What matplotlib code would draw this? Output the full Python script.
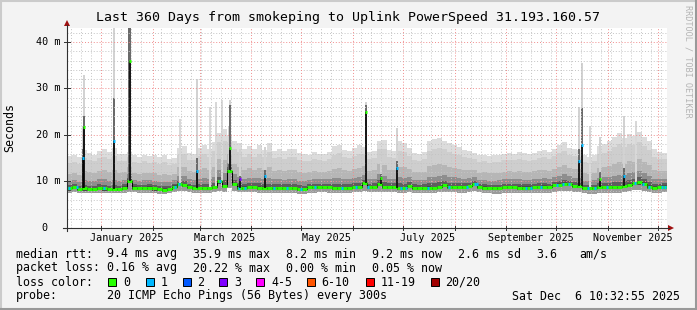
import datetime as dt
import numpy as np
import matplotlib
matplotlib.use("Agg")
import matplotlib.pyplot as plt
from matplotlib.patches import Rectangle, Polygon
from matplotlib.lines import Line2D

plt.rcParams['font.family'] = 'DejaVu Sans Mono'

W, H = 697, 310
X0, X1, Y0, Y1 = 67, 667, 28, 228   # canvas in pixels
YMAX = 43.0
start = dt.datetime(2024, 12, 11, 10, 32, 55)
span_days = 360

# median rtt (ms), 3-day bins
median = [8.5, 8.8, 8.3, 8.5, 8.3, 8.3, 8.6, 8.5, 8.3, 8.4, 8.3, 8.7, 10.2, 8.7, 8.6, 8.6, 8.7, 8.5, 8.3, 8.2,
          8.4, 8.9, 9.4, 9.2, 8.8, 8.6, 8.6, 8.6, 8.6, 8.8, 10.0, 9.0, 12.3, 9.4, 8.7, 8.7, 8.8, 8.8, 8.7, 8.7,
          8.6, 8.6, 8.6, 8.6, 8.6, 8.6, 8.4, 8.3, 8.8, 8.8, 8.8, 8.8, 8.8, 8.6, 8.6, 8.6, 8.6, 8.8, 8.8, 9.6,
          8.8, 8.8, 9.4, 8.8, 8.8, 8.8, 8.6, 8.6, 9.0, 8.6, 8.6, 8.6, 8.7, 8.6, 8.8, 9.2, 8.8, 8.8, 8.8, 8.8,
          9.0, 9.4, 8.8, 8.7, 8.6, 8.6, 8.6, 8.8, 8.8, 8.8, 8.7, 8.7, 8.7, 8.8, 8.8, 8.9, 8.8, 9.2, 9.3, 9.5,
          9.4, 9.0, 9.0, 8.6, 8.6, 8.6, 8.8, 8.8, 8.8, 8.8, 8.8, 9.0, 9.3, 9.6, 9.8, 9.5, 8.9, 8.7, 8.8, 8.9]

# top of the smoke (slowest ping), 3-day bins
smoke_top = [15.4, 15.6, 15.2, 16.8, 16.2, 15.8, 16.6, 16.9, 16.4, 17.2, 16.0, 15.9, 16.4, 15.6, 15.3, 15.8, 15.4, 15.6, 15.2, 15.8,
             14.8, 15.0, 17.3, 17.6, 16.2, 16.0, 17.2, 17.8, 17.0, 18.4, 20.5, 21.2, 20.0, 18.8, 18.2, 17.0, 17.6, 16.9, 17.8, 16.8,
             18.2, 16.6, 17.0, 16.5, 16.9, 17.0, 16.2, 16.0, 15.8, 16.4, 16.0, 15.9, 16.3, 17.6, 17.9, 16.8, 16.6, 17.2, 17.8, 17.5,
             16.4, 16.6, 18.8, 19.0, 16.8, 16.6, 18.6, 18.2, 17.2, 16.2, 15.9, 16.3, 18.6, 19.2, 19.4, 18.8, 18.2, 17.8, 17.4, 16.8,
             16.6, 16.2, 15.6, 15.8, 15.4, 15.6, 15.7, 16.0, 16.2, 16.0, 16.3, 16.1, 15.9, 16.2, 16.6, 16.8, 16.4, 17.0, 17.8, 18.4,
             17.2, 17.0, 16.8, 15.6, 15.2, 15.8, 17.6, 18.0, 18.6, 19.6, 20.4, 19.4, 20.2, 19.8, 20.6, 19.6, 18.8, 17.0, 16.4, 16.2]

# bottom of the smoke (fastest ping), 3-day bins
smoke_low = [7.6, 7.7, 7.5, 7.6, 7.5, 7.5, 7.6, 7.6, 7.5, 7.5, 7.5, 7.6, 7.8, 7.7, 7.6, 7.6, 7.6, 7.5, 7.4, 7.4,
             7.5, 7.7, 7.9, 7.9, 7.7, 7.6, 7.6, 7.6, 7.6, 7.7, 8.0, 7.8, 8.5, 7.9, 7.7, 7.7, 7.7, 7.7, 7.6, 7.6,
             7.6, 7.6, 7.6, 7.6, 7.6, 7.6, 7.4, 7.3, 7.6, 7.6, 7.7, 7.7, 7.6, 7.6, 7.5, 7.5, 7.6, 7.7, 7.7, 7.9,
             7.7, 7.7, 7.8, 7.7, 7.7, 7.7, 7.5, 7.5, 7.7, 7.5, 7.5, 7.5, 7.6, 7.5, 7.7, 7.8, 7.7, 7.7, 7.6, 7.6,
             7.8, 7.9, 7.7, 7.6, 7.5, 7.4, 7.4, 7.5, 7.5, 7.5, 7.5, 7.5, 7.5, 7.6, 7.6, 7.6, 7.6, 7.8, 7.9, 8.0,
             7.9, 7.8, 7.7, 7.5, 7.4, 7.4, 7.6, 7.6, 7.6, 7.6, 7.6, 7.7, 7.9, 8.1, 8.2, 8.0, 7.7, 7.6, 7.6, 7.7]

# short spikes (day from start)
spike_day = [9.6, 10.4, 28.3, 37.5, 77.8, 97.2, 98.0, 103.8, 118.8, 179.4, 188.6, 198.0, 307.4, 308.8, 319.8, 334.4]
spike_med = [15.0, 21.8, 18.6, 35.9, 12.3, 12.3, 17.1, 10.5, 11.2, 25.0, 10.8, 12.8, 14.3, 17.8, 10.5, 11.2]
spike_dark = [17.0, 24.0, 28.0, 43.0, 15.0, 14.0, 26.4, 11.2, 12.5, 26.5, 11.6, 14.5, 17.0, 25.8, 12.0, 13.0]
spike_top = [22.0, 33.0, 43.0, 43.0, 32.0, 22.0, 27.5, 17.0, 17.5, 27.0, 14.5, 21.5, 26.0, 35.5, 19.5, 24.0]
spike_loss = [1, 0, 1, 0, 1, 0, 0, 3, 1, 0, 0, 1, 1, 1, 0, 1]

# tall light smoke columns without a median jump
col_day = [67.8, 85.8, 89.4, 93.0, 313.8, 341.4]
col_top = [23.5, 26.0, 27.0, 27.5, 22.0, 23.0]

# days with 1/20 loss on the median line
loss1_days = [0.6, 5.4, 21.6, 64.2, 66.6, 91.2, 102.6, 106.2, 123.6, 131.4, 139.8, 148.2, 164.4, 172.8,
              180.0, 199.8, 202.8, 216.0, 228.6, 239.4, 244.2, 245.4, 274.8, 277.8, 283.8, 293.4, 297.0,
              300.6, 312.0, 316.2, 323.4, 340.2, 345.0, 348.6, 356.4, 358.2]

loss_colors = ['#26ff00', '#00b8ff', '#0059ff', '#7e00ff', '#ff00ff', '#ff5500', '#ff0000', '#a10000']
loss_labels = ['0', '1', '2', '3', '4-5', '6-10', '11-19', '20/20']
month_labels = ['January 2025', 'March 2025', 'May 2025', 'July 2025', 'September 2025', 'November 2025']
y_ticks = [0, 10, 20, 30, 40]


def fx(x):
    return x / W


def fy(y):
    return 1 - y / H


def day_of(d):
    return (d - start).total_seconds() / 86400


fig = plt.figure(figsize=(W / 100, H / 100), dpi=100, facecolor='#f3f3f3')
ax = fig.add_axes([fx(X0), fy(Y1), (X1 - X0) / W, (Y1 - Y0) / H])
ax.set_xlim(0, span_days)
ax.set_ylim(0, YMAX)
ax.set_facecolor('white')
for s in ax.spines.values():
    s.set_visible(False)
ax.set_xticks([])
ax.set_yticks([])

# smoke
edges = np.arange(0, span_days + 1, 3)
med = np.array(median)
top = np.array(smoke_top)
low = np.array(smoke_low)


def st(a):
    return np.append(a, a[-1])


layers = [(1.0, '#dcdcdc'), (0.8, '#cecece'), (0.46, '#b6b6b6'), (0.23, '#8e8e8e'), (0.1, '#5e5e5e')]
for f, c in layers:
    ax.fill_between(edges, st(low), st(med + f * (top - med)), step='post', color=c, lw=0, zorder=1)
ax.fill_between(edges, st(low), st(med), step='post', color='#9a9a9a', lw=0, zorder=1)
ax.fill_between(edges, st(med - 0.45), st(med + 0.3), step='post', color='#4a4a4a', lw=0, zorder=1)

for d, t in zip(col_day, col_top):
    b = med[int(d // 3)]
    ax.bar(d, t - b, bottom=b, width=1.3, color='#d8d8d8', lw=0, zorder=2)

for d, m, dk, t in zip(spike_day, spike_med, spike_dark, spike_top):
    b = med[int(d // 3)]
    ax.bar(d, t - b, bottom=b, width=1.3, color='#d2d2d2', lw=0, zorder=2)
    ax.bar(d, dk - b, bottom=b, width=1.3, color='#6a6a6a', lw=0, zorder=2)

# grid
for v in range(2, 43, 2):
    if v % 10:
        ax.axhline(v, color='#c4c4c4', lw=0.7, ls=(0, (1, 2)), zorder=3)
    else:
        ax.axhline(v, color='#f08c8c', lw=0.7, ls=(0, (1, 2)), zorder=3)

month_starts = [dt.datetime(2025, m, 1) for m in range(1, 13)]
g = dt.datetime(2024, 12, 14)
while g < start + dt.timedelta(days=span_days):
    if g > start and g.day != 1 and (g + dt.timedelta(days=1)).day != 1:
        ax.axvline(day_of(g), color='#c4c4c4', lw=0.7, ls=(0, (1, 2)), zorder=3)
    g += dt.timedelta(days=6)
for m in month_starts:
    ax.axvline(day_of(m), color='#f08c8c', lw=0.7, ls=(0, (1, 2)), zorder=3)

# median line
ax.step(edges, st(med), where='post', color='black', lw=0.75, zorder=4)
ax.hlines(med, edges[:-1], edges[1:], color=loss_colors[0], lw=2.2, zorder=5)
for d in loss1_days:
    ax.hlines(med[int(d // 3)], d, d + 1.3, color=loss_colors[1], lw=2.2, zorder=6)
for d, m, l in zip(spike_day, spike_med, spike_loss):
    b = med[int(d // 3)]
    ax.vlines(d, b, m, color='black', lw=1.1, zorder=6)
    ax.hlines(m, d - 0.6, d + 0.6, color=loss_colors[l], lw=2.2, zorder=7)

# axes, arrows and ticks (pixel space)
axis_c = '#303030'
fig.add_artist(Line2D([fx(63), fx(669)], [fy(228), fy(228)], color=axis_c, lw=0.8))
fig.add_artist(Line2D([fx(67), fx(67)], [fy(231), fy(25)], color=axis_c, lw=0.8))
fig.add_artist(Polygon([[fx(64), fy(26)], [fx(70), fy(26)], [fx(67), fy(20)]], closed=True,
                       facecolor='#a01010', edgecolor='none'))
fig.add_artist(Polygon([[fx(668), fy(225)], [fx(668), fy(231)], [fx(674), fy(228)]], closed=True,
                       facecolor='#a01010', edgecolor='none'))
for v in y_ticks[1:]:
    yy = Y1 - v * (Y1 - Y0) / YMAX
    fig.add_artist(Line2D([fx(64), fx(70)], [fy(yy), fy(yy)], color=axis_c, lw=0.7))
for m in month_starts:
    xx = X0 + day_of(m) * (X1 - X0) / span_days
    if xx < X1:
        fig.add_artist(Line2D([fx(xx), fx(xx)], [fy(226), fy(230)], color=axis_c, lw=0.7))

# tick labels
tick_fs = 7.3
for v in y_ticks:
    yy = Y1 - v * (Y1 - Y0) / YMAX
    if v == 0:
        fig.text(fx(47.5), fy(yy), '0', ha='right', va='center', fontsize=tick_fs)
    else:
        fig.text(fx(60.5), fy(yy), f'{v} m', ha='right', va='center', fontsize=tick_fs)
for i, lab in enumerate(month_labels):
    d = day_of(dt.datetime(2025, 1 + 2 * i, 1)) + 15
    xx = X0 + d * (X1 - X0) / span_days
    fig.text(fx(xx), fy(238), lab, ha='center', va='center', fontsize=tick_fs)

fig.text(0.5, fy(18), 'Last 360 Days from smokeping to Uplink PowerSpeed 31.193.160.57',
         ha='center', va='center', fontsize=9.5)
fig.text(fx(10), fy(128), 'Seconds', rotation=90, ha='center', va='center', fontsize=8.4)
fig.text(fx(688), fy(5), 'RRDTOOL / TOBI OETIKER', rotation=270, ha='center', va='top',
         fontsize=6.1, color='#b4b4b4')

# legend
leg_fs = 8.4
rows = [
    (254, [(16, 'median rtt:'), (107, '9.4 ms avg'), (193, '35.9 ms max'), (286, '8.2 ms min'),
           (372.5, '9.2 ms now'), (458, '2.6 ms sd'), (536.5, '3.6'), (579, 'am/s')]),
    (268, [(16, 'packet loss:'), (107, '0.16 % avg'), (193, '20.22 % max'), (286, '0.00 % min'),
           (372.5, '0.05 % now')]),
    (282, [(16, 'loss color:')]),
    (296, [(16, 'probe:'), (107, '20 ICMP Echo Pings (56 Bytes) every 300s')]),
]
for yy, items in rows:
    for xx, s in items:
        fig.text(fx(xx), fy(yy), s, ha='left', va='center', fontsize=leg_fs)
fig.text(fx(680), fy(296), 'Sat Dec  6 10:32:55 2025', ha='right', va='center', fontsize=leg_fs)

box_x = [108, 145.5, 182.5, 219, 256, 307, 365.5, 430.5]
lab_x = [123, 161, 197.5, 234, 271, 321.5, 380.5, 445.5]
for bx, lx, c, lab in zip(box_x, lab_x, loss_colors, loss_labels):
    fig.add_artist(Rectangle((fx(bx), fy(286)), 8 / W, 8 / H, facecolor=c, edgecolor='black',
                             lw=0.7, transform=fig.transFigure))
    fig.text(fx(lx), fy(282), lab, ha='left', va='center', fontsize=leg_fs)

# frame shading
fig.add_artist(Line2D([fx(0), fx(W)], [fy(1), fy(1)], color='#cbcbcb', lw=1.5))
fig.add_artist(Line2D([fx(1), fx(1)], [fy(0), fy(H)], color='#cbcbcb', lw=1.5))
fig.add_artist(Line2D([fx(0), fx(W)], [fy(H - 1), fy(H - 1)], color='#999999', lw=1.5))
fig.add_artist(Line2D([fx(W - 1), fx(W - 1)], [fy(0), fy(H)], color='#999999', lw=1.5))

fig.savefig('out.png', dpi=100, facecolor=fig.get_facecolor())
